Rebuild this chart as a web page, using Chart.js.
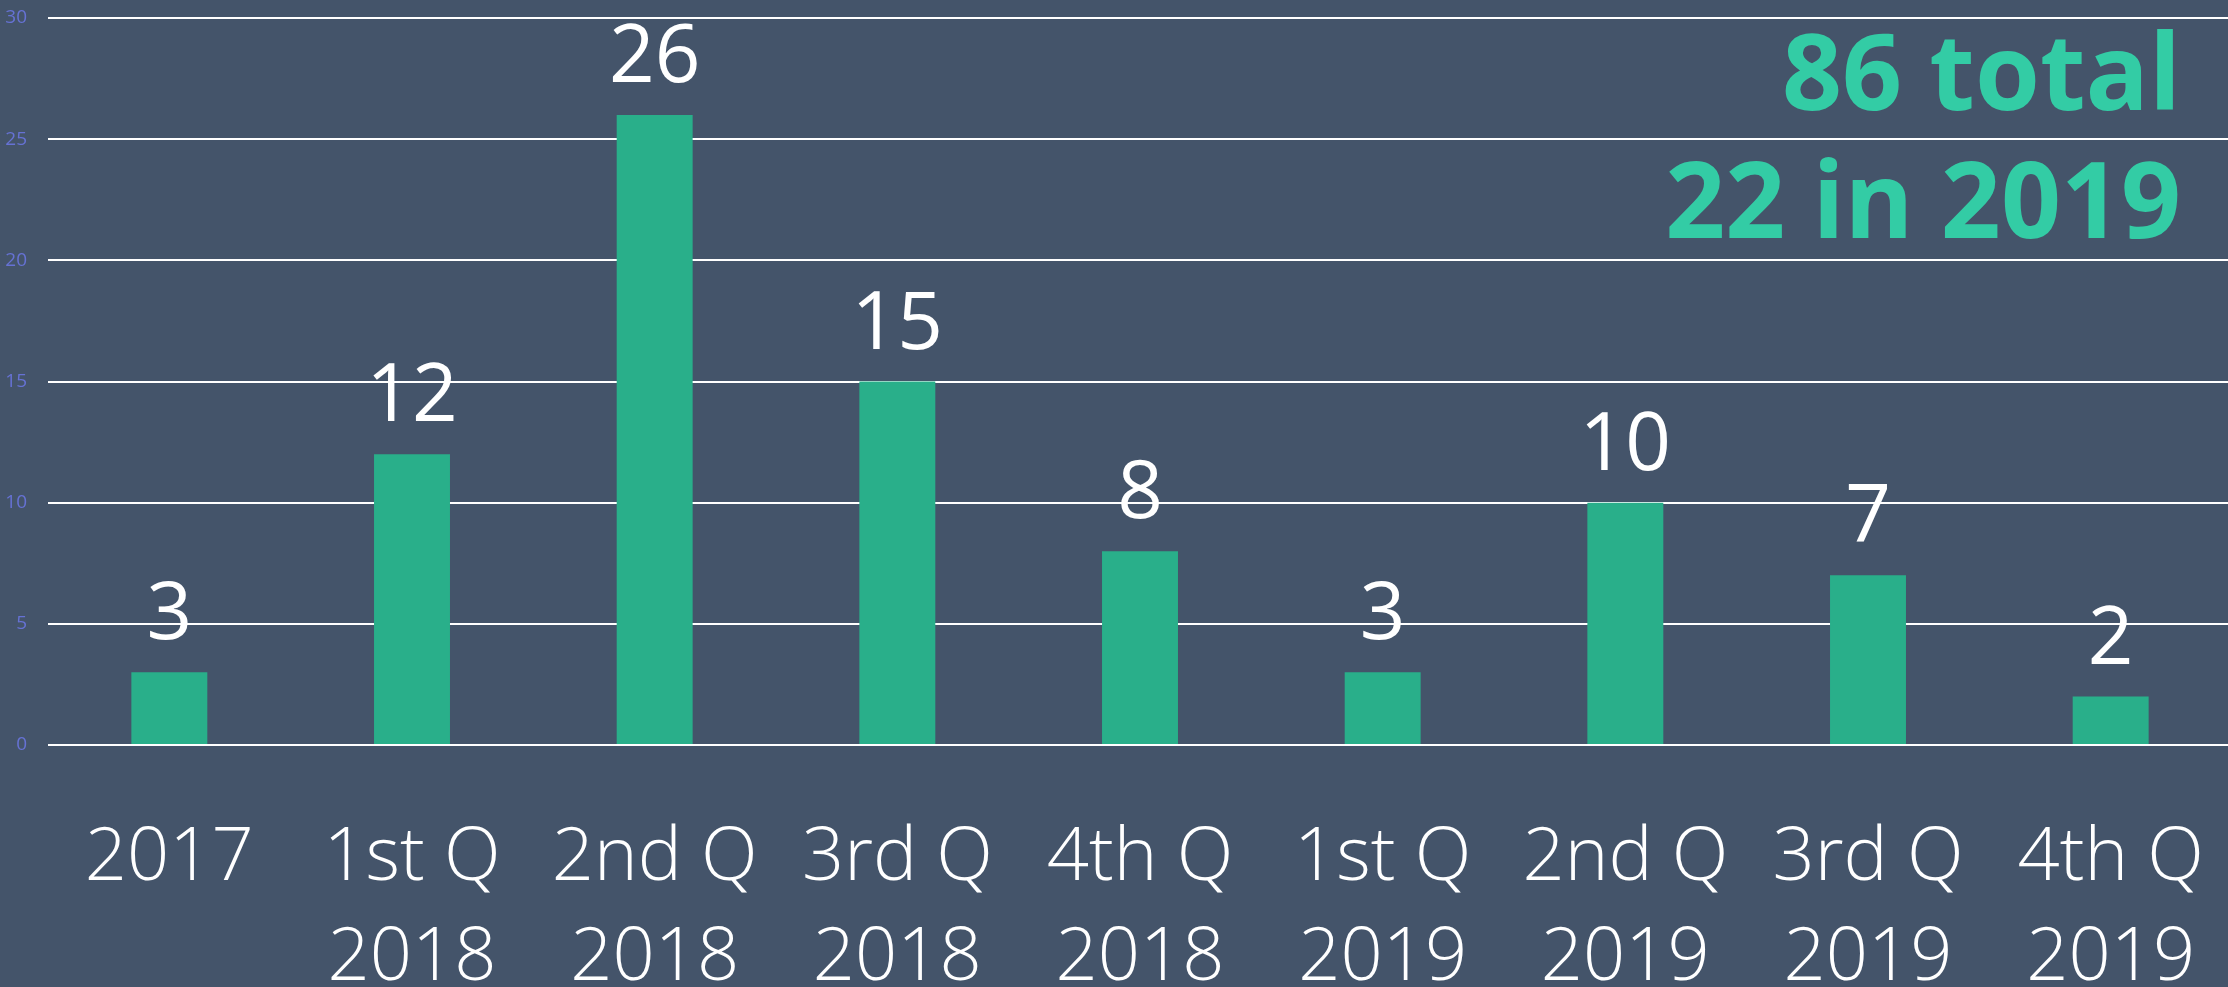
<!DOCTYPE html>
<html>
<head>
<meta charset="utf-8">
<script src="https://cdn.jsdelivr.net/npm/chart.js@4/dist/chart.umd.min.js"></script>
<style>
  html, body { margin: 0; padding: 0; background: #44546A; overflow: hidden; width: 2228px; height: 987px; }
  canvas { display: block; }
</style>
</head>
<body>
<canvas id="c" width="2232" height="987" style="width:2232px;height:987px"></canvas>
<script>
// ---- data ----
const categories = [
  ['2017'],
  ['1st Q', '2018'],
  ['2nd Q', '2018'],
  ['3rd Q', '2018'],
  ['4th Q', '2018'],
  ['1st Q', '2019'],
  ['2nd Q', '2019'],
  ['3rd Q', '2019'],
  ['4th Q', '2019']
];
const values = [3, 12, 26, 15, 8, 3, 10, 7, 2];
const yMin = 0;
const yMax = 30;
const yStep = 5;
const headlineLines = ['86 total', '22 in 2019'];

// ---- plugins ----
const valueLabels = {
  id: 'valueLabels',
  afterDatasetsDraw(chart) {
    const ctx = chart.ctx;
    const meta = chart.getDatasetMeta(0);
    ctx.save();
    ctx.font = '400 80px "Open Sans"';
    ctx.fillStyle = '#FFFFFF';
    ctx.textAlign = 'center';
    ctx.textBaseline = 'alphabetic';
    meta.data.forEach((bar, i) => {
      ctx.fillText(String(values[i]), bar.x, bar.y - 33);
    });
    ctx.restore();
  }
};

const headline = {
  id: 'headline',
  afterDraw(chart) {
    const ctx = chart.ctx;
    ctx.save();
    ctx.font = '700 105px "Open Sans"';
    ctx.fillStyle = '#33CCA5';
    ctx.textAlign = 'right';
    ctx.textBaseline = 'alphabetic';
    ctx.fillText(headlineLines[0], 2181, 110);
    ctx.fillText(headlineLines[1], 2181, 238);
    ctx.restore();
  }
};

new Chart(document.getElementById('c'), {
  type: 'bar',
  data: {
    labels: categories,
    datasets: [{
      data: values,
      backgroundColor: '#29AF8A',
      borderWidth: 0,
      categoryPercentage: 1,
      barPercentage: 0.313
    }]
  },
  options: {
    responsive: false,
    animation: false,
    events: [],
    layout: { padding: { top: 18, left: 0, right: 0, bottom: 0 } },
    plugins: {
      legend: { display: false },
      tooltip: { enabled: false },
      title: { display: false }
    },
    scales: {
      x: {
        offset: true,
        grid: { display: false, drawTicks: false },
        border: { display: false },
        ticks: {
          autoSkip: false,
          maxRotation: 0,
          minRotation: 0,
          color: '#FFFFFF',
          padding: 64,
          font: { family: 'Open Sans', size: 74, weight: '300', lineHeight: 1.35 }
        },
        afterFit(scale) {
          scale.height = 242;
          scale.paddingLeft = 0;
          scale.paddingRight = 0;
        }
      },
      y: {
        min: yMin,
        max: yMax,
        grid: { color: '#FFFFFF', lineWidth: 2, drawTicks: false },
        border: { display: false },
        ticks: {
          stepSize: yStep,
          color: '#6672D4',
          padding: 21,
          font: { family: 'Open Sans', size: 19 }
        },
        afterFit(scale) {
          scale.width = 48;
          scale.paddingTop = 0;
          scale.paddingBottom = 0;
        }
      }
    }
  },
  plugins: [valueLabels, headline]
});
</script>
</body>
</html>
